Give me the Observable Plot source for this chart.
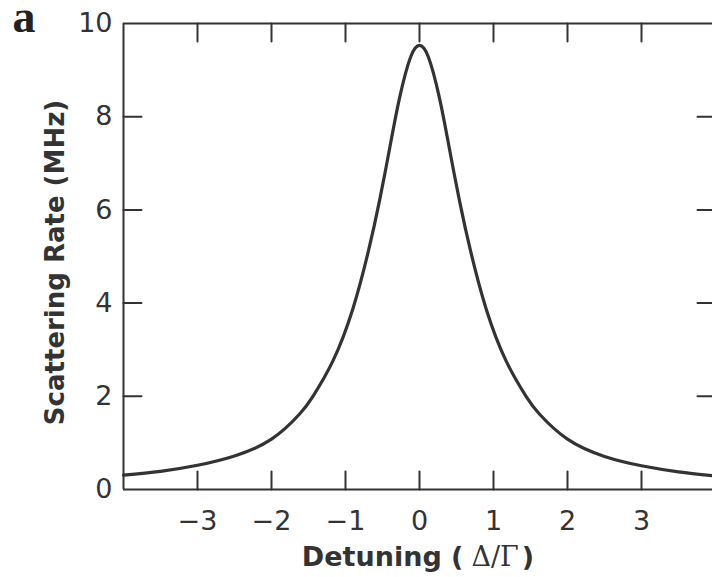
<!DOCTYPE html>
<html><head><meta charset="utf-8">
<script src="https://cdn.jsdelivr.net/npm/d3@7"></script>
<script src="https://cdn.jsdelivr.net/npm/@observablehq/plot@0.6"></script>
<style>
html,body{margin:0;padding:0;background:#fff;overflow:hidden}
</style></head><body>
<div id="chart"></div>
<script>
// values
const detuning = [-4, -3.5, -3, -2.5, -2, -1.62, -1.44, -1.17, -0.9, -0.69, -0.54, -0.4, -0.27, -0.12, 0, 0.12, 0.27, 0.4, 0.54, 0.69, 0.9, 1.17, 1.44, 1.62, 2, 2.5, 3, 3.5, 4];
const rate = [0.31, 0.39, 0.52, 0.72, 1.08, 1.62, 2.0, 2.76, 3.88, 5.12, 6.2, 7.35, 8.4, 9.28, 9.53, 9.28, 8.4, 7.35, 6.2, 5.12, 3.88, 2.76, 2.0, 1.62, 1.08, 0.71, 0.51, 0.38, 0.29];
const xTicks = [-3, -2, -1, 0, 1, 2, 3];
const yTicks = [0, 2, 4, 6, 8, 10];
const xLabel = "Detuning (Δ/Γ)";
const yLabel = "Scattering Rate (MHz)";
const panelTag = "a";

const ink = "#333";
const sans = "'DejaVu Sans', sans-serif";
const tickShape = {draw(ctx, l) { ctx.moveTo(0, 0); ctx.lineTo(0, -l); }};
const tickOpts = {length: 18, anchor: "start", shape: tickShape, stroke: ink, strokeWidth: 2};

const chart = Plot.plot({
  width: 712,
  height: 577,
  marginLeft: 123,
  marginRight: 0,
  marginTop: 23,
  marginBottom: 88,
  style: {fontFamily: sans, color: ink, background: "#fff", overflow: "hidden"},
  x: {domain: [-4, 4], range: [123, 715]},
  y: {domain: [0, 10]},
  marks: [
    Plot.line(rate, {x: detuning, y: rate, curve: "natural", stroke: ink, strokeWidth: 3.2}),
    Plot.ruleY([0, 10], {stroke: ink, strokeWidth: 2}),
    Plot.ruleX([-4, 4], {stroke: ink, strokeWidth: 2}),
    Plot.vectorX(xTicks, {x: d => d, frameAnchor: "bottom", rotate: 0, ...tickOpts}),
    Plot.vectorX(xTicks, {x: d => d, frameAnchor: "top", rotate: 180, ...tickOpts}),
    Plot.vectorY(yTicks.slice(1, -1), {y: d => d, frameAnchor: "left", rotate: 90, ...tickOpts}),
    Plot.vectorY(yTicks.slice(1, -1), {y: d => d, frameAnchor: "right", rotate: -90, ...tickOpts, length: 15}),
    Plot.axisX(xTicks, {tickSize: 0, tickPadding: 21, fontSize: 27, label: null, fill: ink}),
    Plot.axisY(yTicks, {tickSize: 0, tickPadding: 11, fontSize: 27, label: null, fill: ink}),
    Plot.text([xLabel], {frameAnchor: "bottom", dy: 68, textAnchor: "middle", lineAnchor: "middle", fontSize: 27, fontWeight: "bold", fill: ink, className: "xlab"}),
    Plot.text([yLabel], {frameAnchor: "left", dx: -68, dy: 6, rotate: -90, textAnchor: "middle", lineAnchor: "middle", fontSize: 26, fontWeight: "bold", fill: ink}),
    Plot.text([panelTag], {frameAnchor: "top-left", dx: -111, dy: 8, textAnchor: "start", lineAnchor: "bottom", fontSize: 46, fontWeight: "bold", fontFamily: "'Liberation Serif', serif", fill: "#222"})
  ]
});
document.getElementById("chart").appendChild(chart);

// render the Greek part of the x label in a serif face, as in the reference
d3.select(chart).selectAll("g.xlab text").each(function() {
  const t = d3.select(this);
  const s = t.text();
  const i = s.indexOf("(");
  const j = s.indexOf(")");
  t.text(null);
  t.append("tspan").text(s.slice(0, i + 1));
  t.append("tspan").attr("dx", 8).attr("font-family", "'DejaVu Serif', serif").attr("font-weight", "normal").attr("font-size", 27).text(s.slice(i + 1, j));
  t.append("tspan").attr("dx", 3).text(s.slice(j));
});
</script>
</body></html>
